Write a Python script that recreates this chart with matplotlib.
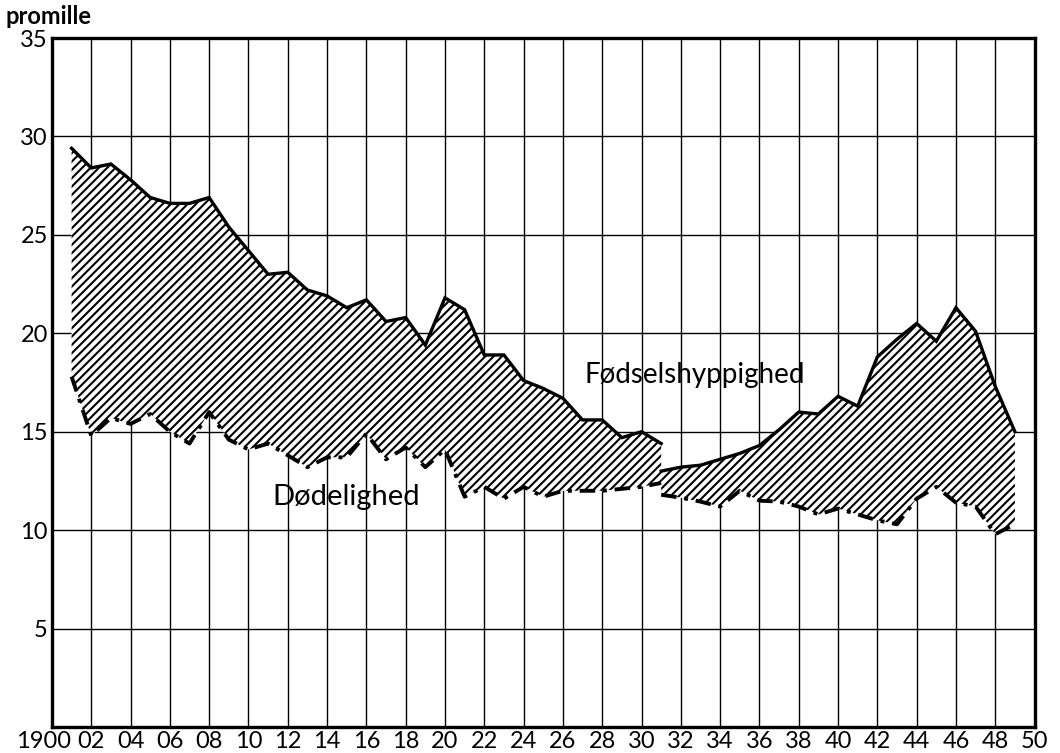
import matplotlib.pyplot as plt
from matplotlib.transforms import ScaledTranslation

plt.rcParams['font.family'] = ['Lato', 'DejaVu Sans']
plt.rcParams['hatch.linewidth'] = 1.5

# series before the break (1901-1931)
years_a = list(range(1901, 1932))
birth_a = [29.4, 28.4, 28.6, 27.8, 26.9, 26.6, 26.6, 26.9, 25.4, 24.2,
           23.0, 23.1, 22.2, 21.9, 21.3, 21.7, 20.6, 20.8, 19.4, 21.8,
           21.2, 18.9, 18.9, 17.6, 17.2, 16.7, 15.6, 15.6, 14.7, 15.0,
           14.4]
death_a = [17.8, 14.8, 15.7, 15.4, 15.9, 15.0, 14.4, 16.0, 14.6, 14.1,
           14.4, 13.8, 13.2, 13.7, 13.7, 14.9, 13.6, 14.2, 13.2, 14.1,
           11.7, 12.2, 11.6, 12.2, 11.7, 12.0, 12.0, 12.0, 12.1, 12.2,
           12.4]

# series after the break (1931-1949)
years_b = list(range(1931, 1950))
birth_b = [13.0, 13.2, 13.3, 13.6, 13.9, 14.3, 15.1, 16.0, 15.9, 16.8,
           16.3, 18.8, 19.7, 20.5, 19.6, 21.3, 20.1, 17.3, 15.0]
death_b = [11.8, 11.65, 11.45, 11.2, 12.0, 11.5, 11.45, 11.2, 10.8, 11.1,
           10.8, 10.5, 10.3, 11.6, 12.2, 11.4, 11.2, 9.8, 10.3]

xticks = list(range(1900, 1951, 2))
xlabels = ['1900'] + ['%02d' % (y % 100) for y in xticks[1:]]
yticks = [5, 10, 15, 20, 25, 30, 35]

fig = plt.figure(figsize=(10.6, 7.53), dpi=100)
ax = fig.add_axes([0.049, 0.0345, 0.927, 0.915])

for yrs, b, d in [(years_a, birth_a, death_a), (years_b, birth_b, death_b)]:
    ax.fill_between(yrs, d, b, facecolor='white', edgecolor='black',
                    hatch='////', linewidth=0, zorder=2)
    ax.plot(yrs, b, color='black', lw=2.4, solid_joinstyle='miter', zorder=3)
    ax.plot(yrs, d, color='black', lw=2.8, dashes=(4, 2, 1, 2), zorder=3)

ax.set_xlim(1900, 1950)
ax.set_ylim(0, 35)
ax.set_xticks(xticks)
ax.set_xticklabels(xlabels, fontsize=17)
ax.set_yticks(yticks)
ax.set_yticklabels([str(v) for v in yticks], fontsize=17)
ax.tick_params(length=0, pad=3)
ax.grid(True, color='black', lw=1.0, zorder=1)
ax.set_axisbelow(True)
for s in ax.spines.values():
    s.set_linewidth(2.4)

# shift the first year label left so it clears "02"
first = ax.get_xticklabels()[0]
first.set_transform(first.get_transform() +
                    ScaledTranslation(-6 / 72, 0, fig.dpi_scale_trans))

ax.text(1927.1, 17.9, 'Fødselshyppighed', fontsize=20, va='center', ha='left',
        zorder=4)
ax.text(1911.2, 11.7, 'Dødelighed', fontsize=21, va='center', ha='left',
        zorder=4)
fig.text(0.005, 0.978, 'promille', fontsize=17, fontweight='bold',
         va='center', ha='left')

fig.savefig('out.png', dpi=100)
